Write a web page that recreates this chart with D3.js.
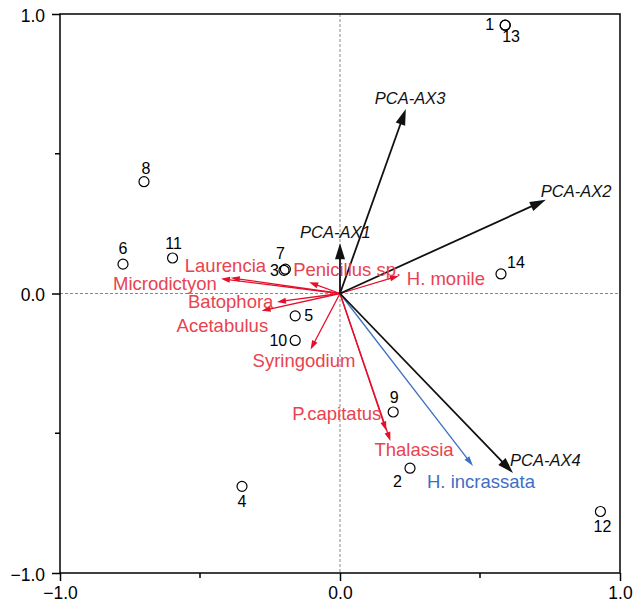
<!DOCTYPE html>
<html>
<head>
<meta charset="utf-8">
<script src="https://cdn.jsdelivr.net/npm/d3@7"></script>
<style>
  body { margin: 0; background: #fff; }
  svg { font-family: "Liberation Sans", Arial, sans-serif; }
</style>
</head>
<body>
<svg id="chart" width="643" height="604"></svg>
<script>
// site scores
const siteIds = ['1', '2', '3', '4', '5', '6', '7', '8', '9', '10', '11', '12', '13', '14'];
const siteX = [0.59, 0.25, -0.2, -0.35, -0.16, -0.775, -0.195, -0.70, 0.19, -0.16, -0.598, 0.93, 0.59, 0.575];
const siteY = [0.96, -0.625, 0.083, -0.69, -0.08, 0.105, 0.087, 0.40, -0.424, -0.168, 0.127, -0.78, 0.96, 0.07];

// species arrows
const species = ['Microdictyon', 'Laurencia', 'Penicillus sp.', 'H. monile', 'Batophora', 'Acetabulus', 'Syringodium', 'P.capitatus', 'Thalassia', 'H. incrassata'];
const speciesX = [-0.425, -0.39, -0.11, 0.21, -0.225, -0.28, -0.105, 0.165, 0.18, 0.475];
const speciesY = [0.053, 0.056, 0.04, 0.063, -0.03, -0.062, -0.2, -0.49, -0.528, -0.617];

// PCA axes as supplementary variables
const pcaAxes = ['PCA-AX1', 'PCA-AX2', 'PCA-AX3', 'PCA-AX4'];
const pcaX = [0, 0.735, 0.235, 0.618];
const pcaY = [0.18, 0.335, 0.66, -0.642];

const tickValues = [-1, 0, 1];
const minorTicks = [-0.5, 0.5];

// label placement (pixel offsets from arrow tip / point)
const siteLabelPos = {
  '1': [-11, 5, 'end'], '13': [-3, 17, 'start'], '8': [2, -8, 'middle'], '6': [0, -10, 'middle'],
  '11': [1, -9, 'middle'], '7': [-5, -10, 'middle'], '3': [-5, 6, 'end'], '5': [9, 5, 'start'],
  '10': [-8, 6, 'end'], '14': [6, -6, 'start'], '9': [1, -9, 'middle'], '2': [-8, 19, 'end'],
  '4': [0, 21, 'middle'], '12': [2, 20, 'middle']
};
const speciesLabelPos = {
  'Microdictyon': [-108, 11], 'Laurencia': [-46, -6], 'Penicillus sp.': [-16, -6], 'H. monile': [8, 9],
  'Batophora': [-89, 6], 'Acetabulus': [-85, 21], 'Syringodium': [-58, 18], 'P.capitatus': [-94, -10],
  'Thalassia': [-16, 15], 'H. incrassata': [-46, 22]
};
const pcaLabelPos = {
  'PCA-AX1': [-40, -5], 'PCA-AX3': [-31, -5], 'PCA-AX2': [-5, -3], 'PCA-AX4': [-3, -7]
};

const svg = d3.select('#chart');
const x = d3.scaleLinear().domain([-1, 1]).range([60, 620]);
const y = d3.scaleLinear().domain([-1, 1]).range([573, 14]);

const red = '#e3102b', redText = '#e8434f', blue = '#3a71c0', blueText = '#3d6fc4';

// zero lines
svg.append('line').attr('x1', x(0)).attr('x2', x(0)).attr('y1', y(1)).attr('y2', y(-1))
  .attr('stroke', '#888').attr('stroke-width', 1).attr('stroke-dasharray', '3,2');
svg.append('line').attr('x1', x(-1)).attr('x2', x(1)).attr('y1', y(0)).attr('y2', y(0))
  .attr('stroke', '#888').attr('stroke-width', 1).attr('stroke-dasharray', '3,2');

// frame
svg.append('rect').attr('x', x(-1)).attr('y', y(1)).attr('width', x(1) - x(-1)).attr('height', y(-1) - y(1))
  .attr('fill', 'none').attr('stroke', '#000').attr('stroke-width', 1.5);

// axes
const xAxis = d3.axisBottom(x).tickValues(tickValues).tickSize(8).tickPadding(4).tickFormat(d3.format('.1f'));
const yAxis = d3.axisLeft(y).tickValues(tickValues).tickSize(8).tickPadding(7).tickFormat(d3.format('.1f'));
const gx = svg.append('g').attr('transform', `translate(0,${y(-1)})`).call(xAxis);
const gy = svg.append('g').attr('transform', `translate(${x(-1)},0)`).call(yAxis);
[gx, gy].forEach(g => {
  g.select('.domain').remove();
  g.selectAll('line').attr('stroke', '#000').attr('stroke-width', 1.5);
  g.selectAll('text').attr('font-size', 17.5).attr('fill', '#000').attr('font-family', '"Liberation Sans", Arial, sans-serif');
});
gx.selectAll('text').attr('dy', '0.8em');
gy.selectAll('text').attr('dy', '0.4em');
gx.selectAll('.minor').data(minorTicks).enter().append('line')
  .attr('x1', d => x(d)).attr('x2', d => x(d)).attr('y1', 0).attr('y2', 5)
  .attr('stroke', '#000').attr('stroke-width', 1.5);
gy.selectAll('.minor').data(minorTicks).enter().append('line')
  .attr('y1', d => y(d)).attr('y2', d => y(d)).attr('x1', 0).attr('x2', -5)
  .attr('stroke', '#000').attr('stroke-width', 1.5);

function arrow(g, vx, vy, color, width, headLen, headW) {
  const x0 = x(0), y0 = y(0), x1 = x(vx), y1 = y(vy);
  const dx = x1 - x0, dy = y1 - y0, len = Math.sqrt(dx * dx + dy * dy);
  const ux = dx / len, uy = dy / len;
  const bx = x1 - ux * headLen, by = y1 - uy * headLen;
  g.append('line').attr('x1', x0).attr('y1', y0).attr('x2', bx + ux * 2).attr('y2', by + uy * 2)
    .attr('stroke', color).attr('stroke-width', width);
  g.append('path')
    .attr('d', `M${x1},${y1}L${bx - uy * headW / 2},${by + ux * headW / 2}L${bx + uy * headW / 2},${by - ux * headW / 2}Z`)
    .attr('fill', color);
}

// species arrows
const gs = svg.append('g');
species.forEach((s, i) => {
  const isBlue = s === 'H. incrassata';
  arrow(gs, speciesX[i], speciesY[i], isBlue ? blue : red, 1.3, isBlue ? 10 : 9, 6);
});

// PCA arrows
const gp = svg.append('g');
pcaAxes.forEach((p, i) => arrow(gp, pcaX[i], pcaY[i], '#111', 1.8, 16, 10));

// species labels
species.forEach((s, i) => {
  const off = speciesLabelPos[s];
  svg.append('text').attr('x', x(speciesX[i]) + off[0]).attr('y', y(speciesY[i]) + off[1])
    .attr('font-size', 18.5).attr('fill', s === 'H. incrassata' ? blueText : redText).text(s);
});

// PCA labels
pcaAxes.forEach((p, i) => {
  const off = pcaLabelPos[p];
  svg.append('text').attr('x', x(pcaX[i]) + off[0]).attr('y', y(pcaY[i]) + off[1])
    .attr('font-size', 16.5).attr('font-style', 'italic').attr('fill', '#111').text(p);
});

// sites
svg.selectAll('.site').data(siteIds).enter().append('circle')
  .attr('class', 'site')
  .attr('cx', (d, i) => x(siteX[i])).attr('cy', (d, i) => y(siteY[i])).attr('r', 5)
  .attr('fill', 'none').attr('stroke', '#000').attr('stroke-width', 1.2);
svg.selectAll('.siteLabel').data(siteIds).enter().append('text')
  .attr('class', 'siteLabel')
  .attr('x', (d, i) => x(siteX[i]) + siteLabelPos[d][0])
  .attr('y', (d, i) => y(siteY[i]) + siteLabelPos[d][1])
  .attr('text-anchor', d => siteLabelPos[d][2])
  .attr('font-size', 16).attr('fill', '#000').text(d => d);
</script>
</body>
</html>
